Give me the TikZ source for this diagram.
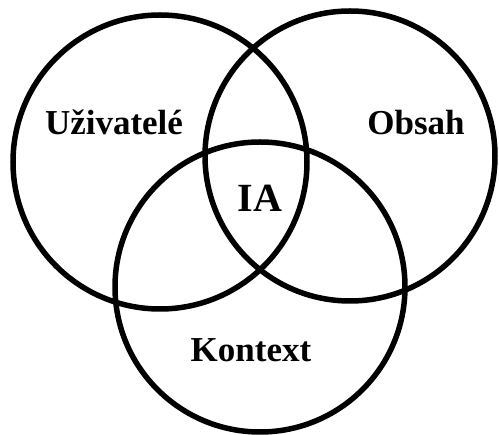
\documentclass[tikz,border=0pt]{standalone}
\usepackage{fontspec}
\setmainfont{Liberation Serif}
\begin{document}
\begin{tikzpicture}[x=1pt,y=-1pt,
  ring/.style={draw=black,line width=5.5pt},
  setlabel/.style={anchor=base,font=\fontsize{35}{40}\selectfont\bfseries},
  corelabel/.style={anchor=base,font=\fontsize{40}{46}\selectfont\bfseries}]
\useasboundingbox[fill=white] (0,0) rectangle (499,435);
% three overlapping sets
\draw[ring] (160,162) circle[radius=147];
\draw[ring] (350,156) circle[radius=145];
\draw[ring] (260,287) circle[radius=145];
% set names
\node[setlabel] (users) at (114,135) {Uživatelé};
\node[setlabel] (content) at (416,135) {Obsah};
\node[setlabel] (context) at (251,362) {Kontext};
\node[corelabel] (ia) at (260,212) {IA};
\end{tikzpicture}
\end{document}
